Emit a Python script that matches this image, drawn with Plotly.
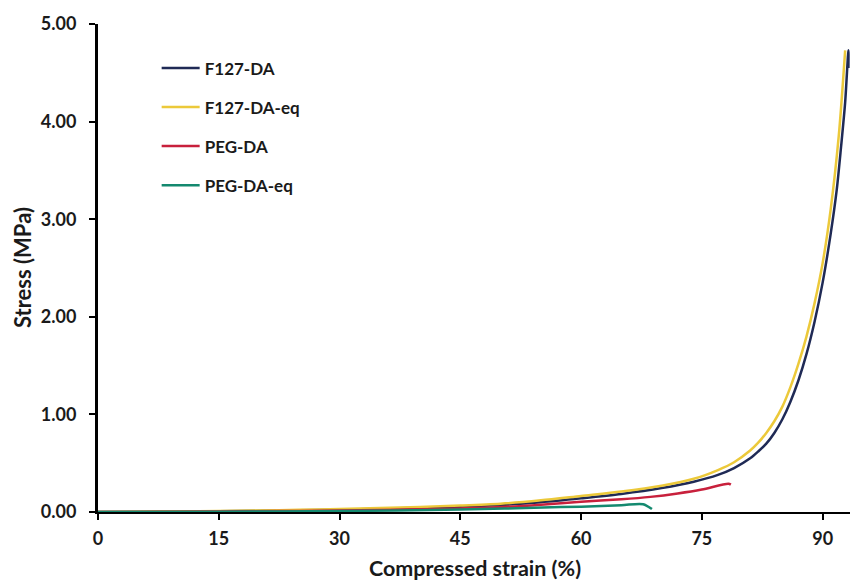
import plotly.graph_objects as go

# F127-DA
strain_f127 = [0, 5, 10, 15, 20, 25, 30, 35, 40, 45, 50, 55, 60, 65, 70, 74, 77, 79, 81, 82, 83, 84, 85, 86, 87, 88, 89, 90, 91, 91.75, 92.3, 92.8, 93.2, 93.2]
stress_f127 = [0, 0.002, 0.005, 0.008, 0.012, 0.018, 0.025, 0.033, 0.043, 0.055, 0.072, 0.10, 0.14, 0.185, 0.245, 0.31, 0.38, 0.45, 0.55, 0.62, 0.70, 0.81, 0.95, 1.13, 1.35, 1.62, 1.95, 2.35, 2.85, 3.3, 3.75, 4.2, 4.73, 4.55]

# F127-DA-eq
strain_f127_eq = [0, 5, 10, 15, 20, 25, 30, 35, 40, 45, 50, 55, 60, 65, 70, 74, 77, 79, 81, 82, 83, 84, 85, 86, 87, 88, 89, 90, 91, 92, 92.8]
stress_f127_eq = [0, 0.003, 0.006, 0.01, 0.015, 0.022, 0.03, 0.04, 0.052, 0.066, 0.085, 0.12, 0.165, 0.21, 0.27, 0.34, 0.43, 0.51, 0.63, 0.71, 0.81, 0.93, 1.08, 1.28, 1.52, 1.80, 2.14, 2.55, 3.10, 3.85, 4.73]

# PEG-DA
strain_peg = [0, 5, 10, 15, 20, 25, 30, 35, 40, 45, 50, 55, 60, 65, 68.6, 72, 75, 78.3, 78.6]
stress_peg = [0, 0.001, 0.003, 0.005, 0.008, 0.011, 0.015, 0.02, 0.027, 0.035, 0.05, 0.075, 0.105, 0.13, 0.155, 0.19, 0.23, 0.29, 0.28]

# PEG-DA-eq
strain_peg_eq = [0, 15, 30, 45, 57.4, 60, 65, 67.7, 68.8]
stress_peg_eq = [0, 0.003, 0.01, 0.025, 0.05, 0.055, 0.07, 0.08, 0.03]

y_ticks = [0, 1, 2, 3, 4, 5]
y_tick_labels = ["0.00", "1.00", "2.00", "3.00", "4.00", "5.00"]
x_ticks = [0, 15, 30, 45, 60, 75, 90]

series = [
    ("F127-DA", strain_f127, stress_f127, "#1f2a55"),
    ("F127-DA-eq", strain_f127_eq, stress_f127_eq, "#ecc93a"),
    ("PEG-DA", strain_peg, stress_peg, "#c8203c"),
    ("PEG-DA-eq", strain_peg_eq, stress_peg_eq, "#14896f"),
]

fig = go.Figure()
for name, xs, ys, col in series:
    fig.add_trace(go.Scatter(x=xs, y=ys, mode="lines", name=name, legendgroup=name,
                             line=dict(color=col, width=2.5, shape="spline", smoothing=0.8)))

font_family = "Lato, Open Sans, sans-serif"
txt_col = "#1a1a1a"
fig.update_layout(
    width=850, height=581,
    margin=dict(l=98, r=0, t=24, b=69),
    paper_bgcolor="white", plot_bgcolor="white",
    font=dict(family=font_family, color=txt_col),
    showlegend=True,
    legend=dict(x=0.078, y=0.946, xanchor="left", yanchor="top",
                font=dict(size=17, family=font_family, color=txt_col, weight="bold"),
                tracegroupgap=14, bgcolor="rgba(0,0,0,0)", itemwidth=38),
    xaxis=dict(range=[0, 93.4], tickvals=x_ticks, ticktext=[str(v) for v in x_ticks],
               showgrid=False, zeroline=False, showline=True, linecolor="black", linewidth=2,
               ticks="outside", ticklen=6, tickwidth=2, tickcolor="black",
               ticklabelstandoff=3, automargin=False,
               tickfont=dict(size=18, family=font_family, weight="bold", color=txt_col)),
    yaxis=dict(range=[0, 5], tickvals=y_ticks, ticktext=y_tick_labels,
               showgrid=False, zeroline=False, showline=True, linecolor="black", linewidth=3,
               ticks="outside", ticklen=6, tickwidth=2, tickcolor="black",
               ticklabelstandoff=9, automargin=False,
               tickfont=dict(size=18, family=font_family, weight="bold", color=txt_col)),
    annotations=[
        dict(text="Compressed strain (%)", xref="paper", yref="paper", x=0.501, y=-0.115,
             xanchor="center", yanchor="middle", showarrow=False,
             font=dict(size=21.5, family=font_family, weight="bold", color=txt_col)),
        dict(text="Stress (MPa)", xref="paper", yref="paper", x=-0.101, y=0.5,
             xanchor="center", yanchor="middle", showarrow=False, textangle=-90,
             font=dict(size=22, family=font_family, weight="bold", color=txt_col)),
    ],
)

fig.write_html("out.html", config={"displayModeBar": False},
               post_script="document.body.style.margin='0';document.body.style.overflow='hidden';")
